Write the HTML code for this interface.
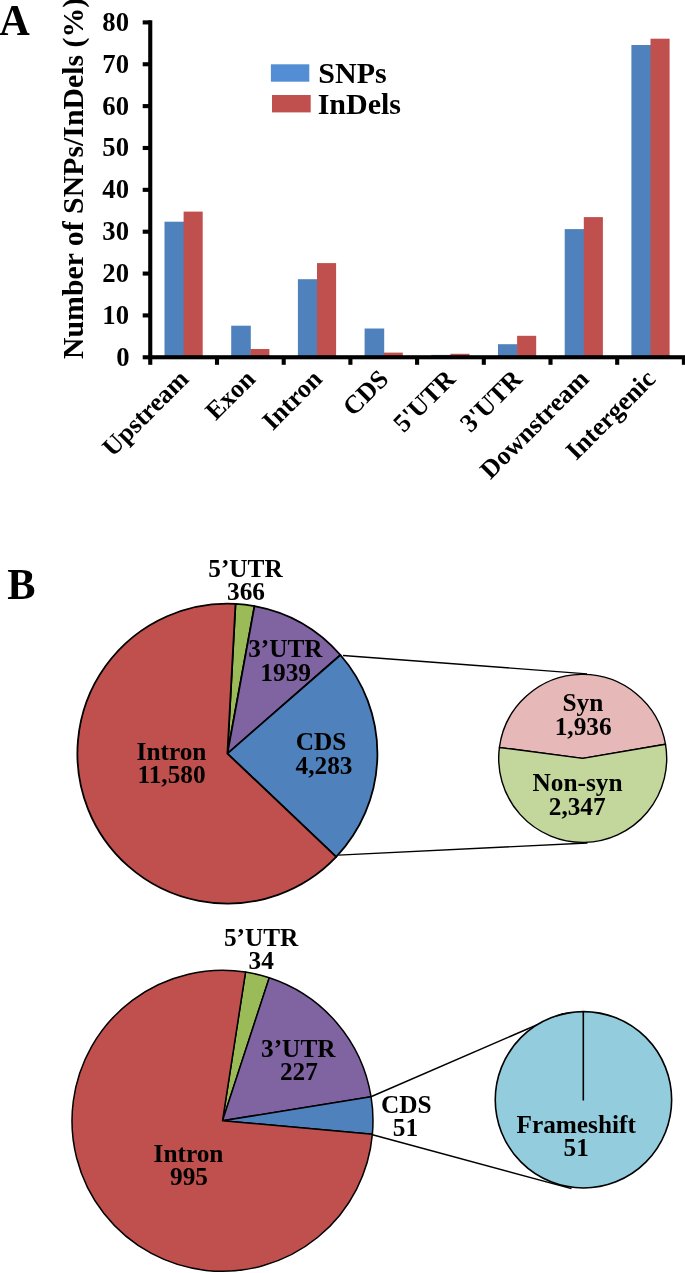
<!DOCTYPE html>
<html><head><meta charset="utf-8"><style>
html,body{margin:0;padding:0;background:#fff;}
svg{display:block;will-change:transform;}
text{font-family:"Liberation Serif",serif;font-weight:bold;}
</style></head><body>
<svg width="685" height="1273" viewBox="0 0 685 1273">
<text transform="translate(-0.7,34.8) scale(1.0,1.05)" font-size="42.3">A</text>
<rect x="164.50" y="221.7" width="19.6" height="135.30" fill="#4F81BD"/>
<rect x="183.60" y="211.6" width="19.1" height="145.40" fill="#C0504D"/>
<rect x="231.20" y="325.7" width="19.6" height="31.30" fill="#4F81BD"/>
<rect x="250.30" y="349.0" width="19.1" height="8.00" fill="#C0504D"/>
<rect x="297.90" y="279.2" width="19.6" height="77.80" fill="#4F81BD"/>
<rect x="317.00" y="263.1" width="19.1" height="93.90" fill="#C0504D"/>
<rect x="364.60" y="328.5" width="19.6" height="28.50" fill="#4F81BD"/>
<rect x="383.70" y="352.6" width="19.1" height="4.40" fill="#C0504D"/>
<rect x="431.30" y="354.9" width="19.6" height="2.10" fill="#4F81BD"/>
<rect x="450.40" y="353.8" width="19.1" height="3.20" fill="#C0504D"/>
<rect x="498.00" y="344.2" width="19.6" height="12.80" fill="#4F81BD"/>
<rect x="517.10" y="335.8" width="19.1" height="21.20" fill="#C0504D"/>
<rect x="564.70" y="229.1" width="19.6" height="127.90" fill="#4F81BD"/>
<rect x="583.80" y="217.1" width="19.1" height="139.90" fill="#C0504D"/>
<rect x="631.40" y="45.0" width="19.6" height="312.00" fill="#4F81BD"/>
<rect x="650.50" y="38.7" width="19.1" height="318.30" fill="#C0504D"/>
<rect x="148.2" y="20.3" width="4.1" height="344.5" fill="#000"/>
<rect x="148.2" y="355.2" width="537" height="4.1" fill="#000"/>
<rect x="142.7" y="20.35" width="8" height="4.1" fill="#000"/>
<text transform="translate(102.3,30.8)" font-size="26.7">80</text>
<rect x="142.7" y="62.21" width="8" height="4.1" fill="#000"/>
<text transform="translate(102.3,72.66)" font-size="26.7">70</text>
<rect x="142.7" y="104.07" width="8" height="4.1" fill="#000"/>
<text transform="translate(102.3,114.52)" font-size="26.7">60</text>
<rect x="142.7" y="145.93" width="8" height="4.1" fill="#000"/>
<text transform="translate(102.3,156.38)" font-size="26.7">50</text>
<rect x="142.7" y="187.79" width="8" height="4.1" fill="#000"/>
<text transform="translate(102.3,198.24)" font-size="26.7">40</text>
<rect x="142.7" y="229.65" width="8" height="4.1" fill="#000"/>
<text transform="translate(102.3,240.1)" font-size="26.7">30</text>
<rect x="142.7" y="271.51" width="8" height="4.1" fill="#000"/>
<text transform="translate(102.3,281.96)" font-size="26.7">20</text>
<rect x="142.7" y="313.37" width="8" height="4.1" fill="#000"/>
<text transform="translate(102.3,323.82)" font-size="26.7">10</text>
<rect x="142.7" y="355.23" width="8" height="4.1" fill="#000"/>
<text transform="translate(116.3,365.68)" font-size="26.7">0</text>
<rect x="214.95" y="357" width="4.1" height="7.8" fill="#000"/>
<rect x="281.65" y="357" width="4.1" height="7.8" fill="#000"/>
<rect x="348.35" y="357" width="4.1" height="7.8" fill="#000"/>
<rect x="415.05" y="357" width="4.1" height="7.8" fill="#000"/>
<rect x="481.75" y="357" width="4.1" height="7.8" fill="#000"/>
<rect x="548.45" y="357" width="4.1" height="7.8" fill="#000"/>
<rect x="615.15" y="357" width="4.1" height="7.8" fill="#000"/>
<rect x="681.85" y="357" width="4.1" height="7.8" fill="#000"/>
<text transform="translate(82.6,359.0) rotate(-90)" font-size="29.8">Number of SNPs/InDels (%)</text>
<text transform="translate(190.0,380.4) rotate(-45)" font-size="26" text-anchor="end">Upstream</text>
<text transform="translate(256.7,380.4) rotate(-45)" font-size="26" text-anchor="end">Exon</text>
<text transform="translate(323.4,380.4) rotate(-45)" font-size="26" text-anchor="end">Intron</text>
<text transform="translate(390.1,380.4) rotate(-45)" font-size="26" text-anchor="end">CDS</text>
<text transform="translate(456.8,380.4) rotate(-45)" font-size="26" text-anchor="end">5'UTR</text>
<text transform="translate(523.5,380.4) rotate(-45)" font-size="26" text-anchor="end">3'UTR</text>
<text transform="translate(590.2,380.4) rotate(-45)" font-size="26" text-anchor="end">Downstream</text>
<text transform="translate(656.9,380.4) rotate(-45)" font-size="26" text-anchor="end">Intergenic</text>
<rect x="270.9" y="64.3" width="38.4" height="17.4" fill="#538ED5"/>
<rect x="272" y="95" width="38.7" height="17.4" fill="#C0504D"/>
<text transform="translate(318.3,82.6)" font-size="30">SNPs</text>
<text transform="translate(317.7,114.0)" font-size="30">InDels</text>
<text transform="translate(7.2,599.0) scale(1.0,1.05)" font-size="42.3">B</text>
<path d="M227.40,753.60 L235.51,603.82 A150,150 0 0 1 254.48,606.06 Z" fill="#9BBB59" stroke="#000" stroke-width="1.8" stroke-linejoin="round"/>
<path d="M227.40,753.60 L254.48,606.06 A150,150 0 0 1 340.43,654.99 Z" fill="#8064A2" stroke="#000" stroke-width="1.8" stroke-linejoin="round"/>
<path d="M227.40,753.60 L340.43,654.99 A150,150 0 0 1 336.21,856.85 Z" fill="#4F81BD" stroke="#000" stroke-width="1.8" stroke-linejoin="round"/>
<path d="M227.40,753.60 L336.21,856.85 A150,150 0 1 1 235.51,603.82 Z" fill="#C0504D" stroke="#000" stroke-width="1.8" stroke-linejoin="round"/>
<line x1="343" y1="655.5" x2="587" y2="673.8" stroke="#000" stroke-width="1.3"/>
<line x1="338.4" y1="855.1" x2="587.5" y2="843" stroke="#000" stroke-width="1.3"/>
<path d="M582.70,758.40 L499.42,747.44 A84,84 0 0 1 665.50,744.25 Z" fill="#E6B9B8" stroke="#000" stroke-width="1.4" stroke-linejoin="round"/>
<path d="M582.70,758.40 L665.50,744.25 A84,84 0 1 1 499.42,747.44 Z" fill="#C3D69B" stroke="#000" stroke-width="1.4" stroke-linejoin="round"/>
<path d="M222.50,1120.80 L245.52,972.07 A150.5,150.5 0 0 1 269.26,977.75 Z" fill="#9BBB59" stroke="#000" stroke-width="1.5" stroke-linejoin="round"/>
<path d="M222.50,1120.80 L269.26,977.75 A150.5,150.5 0 0 1 371.06,1096.74 Z" fill="#8064A2" stroke="#000" stroke-width="1.5" stroke-linejoin="round"/>
<path d="M222.50,1120.80 L371.06,1096.74 A150.5,150.5 0 0 1 372.40,1134.18 Z" fill="#4F81BD" stroke="#000" stroke-width="1.5" stroke-linejoin="round"/>
<path d="M222.50,1120.80 L372.40,1134.18 A150.5,150.5 0 1 1 245.52,972.07 Z" fill="#C0504D" stroke="#000" stroke-width="1.5" stroke-linejoin="round"/>
<line x1="371.5" y1="1096.5" x2="563" y2="1013.6" stroke="#000" stroke-width="1.5"/>
<line x1="372.5" y1="1134.8" x2="571.5" y2="1188.6" stroke="#000" stroke-width="1.5"/>
<circle cx="583.45" cy="1099.8" r="88.2" fill="#93CDDD" stroke="#000" stroke-width="1.6"/>
<line x1="583.3" y1="1011.6" x2="583.3" y2="1100.5" stroke="#000" stroke-width="1.6"/>
<text transform="translate(208.25,577.3)" font-size="25.3">5’UTR</text>
<text transform="translate(227.0,599.9)" font-size="25.3">366</text>
<text transform="translate(248.15,657.1)" font-size="25.3">3’UTR</text>
<text transform="translate(260.35,680.5)" font-size="25.3">1939</text>
<text transform="translate(136.55,759.8)" font-size="25.3">Intron</text>
<text transform="translate(137.45,782.5)" font-size="25.3">11,580</text>
<text transform="translate(295.75,750.2)" font-size="25.3">CDS</text>
<text transform="translate(295.55,773.6)" font-size="25.3">4,283</text>
<text transform="translate(562.55,711.3)" font-size="25.3">Syn</text>
<text transform="translate(554.7,735.2)" font-size="25.3">1,936</text>
<text transform="translate(532.6,791.0)" font-size="25.3">Non-syn</text>
<text transform="translate(548.75,814.7)" font-size="25.3">2,347</text>
<text transform="translate(223.9,946.1)" font-size="25.3">5’UTR</text>
<text transform="translate(248.55,969.4)" font-size="25.3">34</text>
<text transform="translate(261.05,1057.2)" font-size="25.3">3’UTR</text>
<text transform="translate(279.95,1080.3)" font-size="25.3">227</text>
<text transform="translate(381.05,1112.8)" font-size="25.3">CDS</text>
<text transform="translate(392.8,1136.2)" font-size="25.3">51</text>
<text transform="translate(153.55,1161.7)" font-size="25.3">Intron</text>
<text transform="translate(170.05,1184.7)" font-size="25.3">995</text>
<text transform="translate(516.45,1132.6)" font-size="25.3">Frameshift</text>
<text transform="translate(563.55,1155.6)" font-size="25.3">51</text>
</svg>
</body></html>
